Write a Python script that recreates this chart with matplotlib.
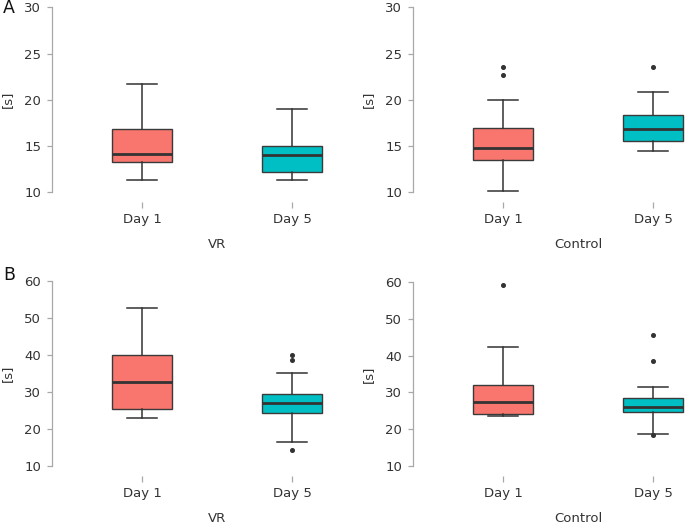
import matplotlib.pyplot as plt
from matplotlib.transforms import blended_transform_factory

days = ["Day 1", "Day 5"]
box_colors = ["#F8766D", "#00BFC4"]

# box stats per day: whislo, q1, median, q3, whishi
a_vr = [[11.3, 13.24, 14.18, 16.85, 21.75], [11.37, 12.23, 14.07, 14.97, 18.97]]
a_vr_out = [[], []]
a_ctrl = [[10.18, 13.53, 14.83, 16.95, 19.98], [14.47, 15.51, 16.88, 18.4, 20.85]]
a_ctrl_out = [[23.55, 22.65], [23.55]]
b_vr = [[22.91, 25.34, 32.65, 40.14, 52.87], [16.59, 24.44, 27.15, 29.58, 35.09]]
b_vr_out = [[], [40.14, 38.61, 14.33]]
b_ctrl = [[23.68, 24.22, 27.4, 32.0, 42.43], [18.6, 24.58, 25.94, 28.48, 31.38]]
b_ctrl_out = [[59.1], [45.69, 38.53, 18.51]]

a_ticks = [10, 15, 20, 25, 30]
b_ticks = [10, 20, 30, 40, 50, 60]

W, H = 685, 523
fig = plt.figure(figsize=(W / 100, H / 100), dpi=100)

axis_col = "#a8a8a8"
text_col = "#333333"


def draw_panel(stats, fliers, ticks, group, x_axis, cat1, y_top, y_bot):
    right = min(x_axis + 332, W)
    gap = 10
    ax = fig.add_axes([x_axis / W, 1 - (y_bot + gap) / H,
                       (right - x_axis) / W, (y_bot + gap - y_top) / H])
    step = 150.0
    ax.set_xlim(1 - (cat1 - x_axis) / step, 1 + (right - cat1) / step)
    ymin, ymax = ticks[0], ticks[-1]
    ax.set_ylim(ymin - gap * (ymax - ymin) / (y_bot - y_top), ymax)

    bstats = []
    for i in range(len(days)):
        s = stats[i]
        bstats.append({"whislo": s[0], "q1": s[1], "med": s[2], "q3": s[3],
                       "whishi": s[4], "fliers": fliers[i]})
    res = ax.bxp(bstats, positions=[1, 2], widths=0.4, capwidths=0.2,
                 patch_artist=True, manage_ticks=False,
                 boxprops=dict(edgecolor="#3a3a3a", linewidth=1.0),
                 medianprops=dict(color="#333333", linewidth=2.0),
                 whiskerprops=dict(color="#333333", linewidth=1.1),
                 capprops=dict(color="#333333", linewidth=1.1),
                 flierprops=dict(marker="o", markersize=2.6,
                                 markerfacecolor="#333333",
                                 markeredgecolor="#333333"))
    for patch, c in zip(res["boxes"], box_colors):
        patch.set_facecolor(c)

    for sp in ["top", "right", "bottom"]:
        ax.spines[sp].set_visible(False)
    ax.spines["left"].set_bounds(ymin, ymax)
    ax.spines["left"].set_color(axis_col)
    ax.spines["left"].set_linewidth(0.9)

    ax.set_yticks(ticks)
    ax.set_xticks([1, 2])
    ax.set_xticklabels(days)
    ax.tick_params(axis="y", length=3.6, width=0.9, color=axis_col,
                   labelcolor=text_col, labelsize=9.5, pad=4)
    ax.tick_params(axis="x", length=4.3, width=0.9, color=axis_col,
                   labelcolor=text_col, labelsize=9.5, pad=3.5)

    tr = blended_transform_factory(ax.transData, fig.transFigure)
    ax.set_xlabel(group, fontsize=9.5, color=text_col, va="center")
    ax.xaxis.set_label_coords(1.5, 1 - (y_bot + 52) / H, transform=tr)
    ax.set_ylabel("[s]", fontsize=9.5, color=text_col, va="center")
    ax.yaxis.set_label_coords((x_axis - 44.5) / W, 1 - (y_top + y_bot) / 2 / H,
                              transform=fig.transFigure)
    return ax


draw_panel(a_vr, a_vr_out, a_ticks, "VR", 51.7, 142.3, 7.3, 192.3)
draw_panel(a_ctrl, a_ctrl_out, a_ticks, "Control", 412.7, 503.3, 7.3, 192.3)
draw_panel(b_vr, b_vr_out, b_ticks, "VR", 51.7, 142.3, 281.3, 466.0)
draw_panel(b_ctrl, b_ctrl_out, b_ticks, "Control", 412.7, 503.3, 282.0, 466.0)

fig.text(8.5 / W, 1 - 8 / H, "A", fontsize=12.5, color="#111111", ha="center", va="center")
fig.text(9.5 / W, 1 - 275 / H, "B", fontsize=12.5, color="#111111", ha="center", va="center")

fig.savefig("out.png", dpi=100)
